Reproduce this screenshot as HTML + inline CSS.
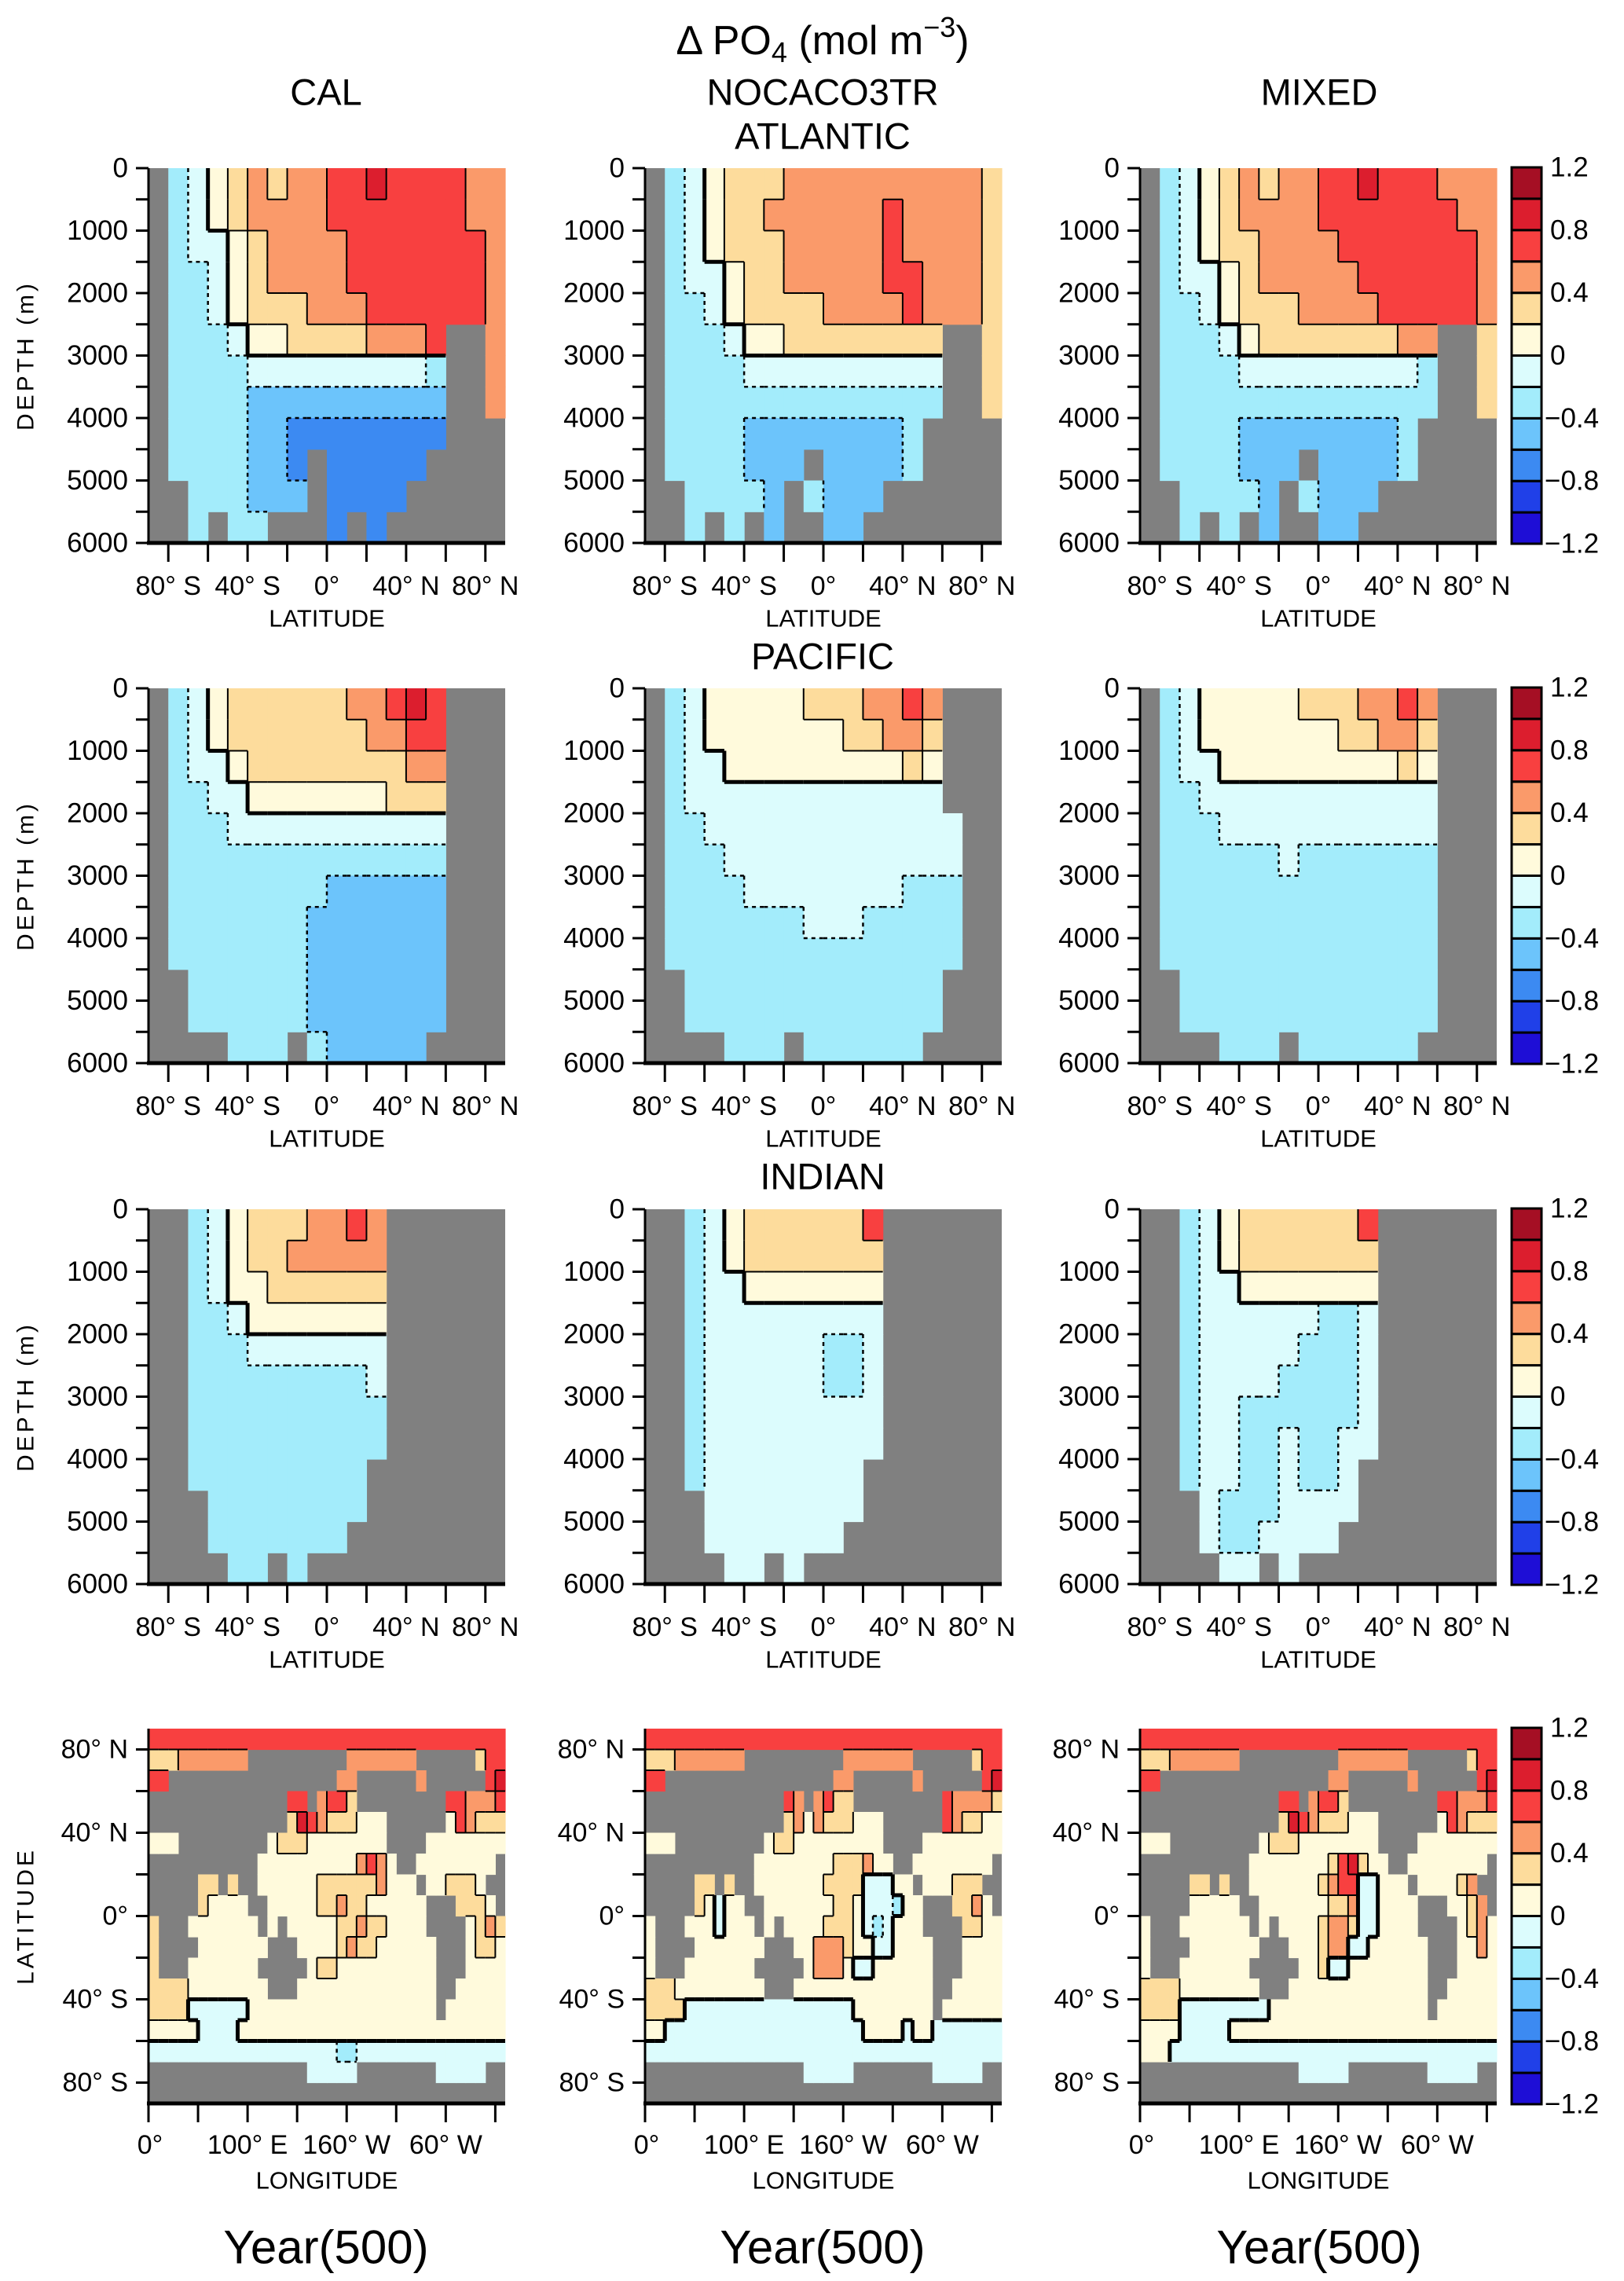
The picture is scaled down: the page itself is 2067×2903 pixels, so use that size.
<!DOCTYPE html>
<html><head><meta charset="utf-8"><style>
html,body{margin:0;padding:0;background:#fff}
svg{display:block}
text{font-family:"Liberation Sans",sans-serif;fill:#000}
</style></head><body>
<svg id="fig" width="2067" height="2903" viewBox="0 0 2067 2903" xmlns="http://www.w3.org/2000/svg"></svg>
<script>
// ---- data: level codes ('#' land; A..F negative bins; g..l positive bins)
const levelCodes = "ABCDEFghijkl";
const levelValues = [-1.1,-0.9,-0.7,-0.5,-0.3,-0.1,0.1,0.3,0.5,0.7,0.9,1.1];
const colorbarTicks = [1.2,0.8,0.4,0,-0.4,-0.8,-1.2];
const latTicks = [-80,-60,-40,-20,0,20,40,60,80];
const latTickLabels = {"-80":"80° S","-40":"40° S","0":"0°","40":"40° N","80":"80° N"};
const depthTicks = [0,500,1000,1500,2000,2500,3000,3500,4000,4500,5000,5500,6000];
const depthTickLabels = [0,1000,2000,3000,4000,5000,6000];
const lonTicks = [0,50,100,150,200,250,300,350];
const lonTickLabels = {"0":"0°","100":"100° E","200":"160° W","300":"60° W"};
const mapLatLabels = {"80":"80° N","40":"40° N","0":"0°","-40":"40° S","-80":"80° S"};

const atlCal = ["#EFghihiijjkjjjjii","#EFghiiiijjjjjjjii","#EFFghiiiijjjjjjji","#EEFghiiiijjjjjjji","#EEFghhhiiijjjjjji","#EEEFgghhhhiiij##i","#EEEEFFFFFFFFFE##i","#EEEEDDDDDDDDDD##i","#EEEEDDCCCCCCCC###","#EEEEDDC#CCCCC####","##EEEDDD#CCCC#####","##E#EE###C#C######"];
const atlNoca = ["#EFghhhiiiiiiiiiih","#EFghhiiiiiijiiiih","#EFghhhiiiiijiiiih","#EFFghhiiiiijjiiih","#EEFghhhhiiiijiiih","#EEEFgghhhhhhhh##h","#EEEEFFFFFFFFFF##h","#EEEEEEEEEEEEEE##h","#EEEEDDDDDDDDE####","#EEEEDDD#DDDDE####","##EEEED#EDDD######","##E#E#D##DD#######"];
const atlMix = ["#EFghihiijjkjjjiii","#EFghiiiijjjjjjjii","#EFghhiiiijjjjjjji","#EFFghiiiiijjjjjji","#EEFghhhiiiijjjjji","#EEEFghhhhhhhii##h","#EEEEFFFFFFFFFE##h","#EEEEEEEEEEEEEE##h","#EEEEDDDDDDDDE####","#EEEEDDD#DDDDE####","##EEEED#EDDD######","##E#E#D##DD#######"];
const pacCal = ["#EFghhhhhhiijkj###","#EFghhhhhhhiijj###","#EFFghhhhhhhhii###","#EEFFggggggghhh###","#EEEFFFFFFFFFFF###","#EEEEEEEEEEEEEE###","#EEEEEEEEDDDDDD###","#EEEEEEEDDDDDDD###","#EEEEEEEDDDDDDD###","##EEEEEEDDDDDDD###","##EEEEEEDDDDDDD###","####EEE#EDDDDD####"];
const pacNoca = ["#EFggggghhhiiji###","#EFggggggghhiih###","#EFFggggggggghg###","#EFFFFFFFFFFFFF###","#EEFFFFFFFFFFFFF##","#EEEFFFFFFFFFFFF##","#EEEEFFFFFFFFEEE##","#EEEEEEEFFFEEEEE##","#EEEEEEEEEEEEEEE##","##EEEEEEEEEEEEE###","##EEEEEEEEEEEEE###","####EEE#EEEEEE####"];
const pacMix = ["#EFggggghhhiiji###","#EFggggggghhiih###","#EFFggggggggghg###","#EEFFFFFFFFFFFF###","#EEEFFFFFFFFFFF###","#EEEEEEFEEEEEEE###","#EEEEEEEEEEEEEE###","#EEEEEEEEEEEEEE###","#EEEEEEEEEEEEEE###","##EEEEEEEEEEEEE###","##EEEEEEEEEEEEE###","####EEE#EEEEEE####"];
const indCal = ["##EFghhhiiji######","##EFghhiiiii######","##EFgghhhhhh######","##EEFggggggg######","##EEEFFFFFFF######","##EEEEEEEEEF######","##EEEEEEEEEE######","##EEEEEEEEEE######","##EEEEEEEEE#######","###EEEEEEEE#######","###EEEEEEE########","####EE#E##########"];
const indNoca = ["##EFghhhhhhj######","##EFghhhhhhh######","##EFFggggggg######","##EFFFFFFFFF######","##EFFFFFFEEF######","##EFFFFFFEEF######","##EFFFFFFFFF######","##EFFFFFFFFF######","##EFFFFFFFF#######","###FFFFFFFF#######","###FFFFFFF########","####FF#F##########"];
const indMix = ["##EFghhhhhhj######","##EFghhhhhhh######","##EFFggggggg######","##EFFFFFFEEF######","##EFFFFFEEEF######","##EFFFFEEEEF######","##EFFEEEEEEF######","##EFFEEFEEFF######","##EFFEEFEEF#######","###FEEEFFFF#######","###FEEFFFF########","####FF#F##########"];

const mapLand = ["....................................","..........##########.......######...","..#################..######.######..","##############..#....#########......","##############..........######......","...#########............####........","###########..............##........#","#####..#.##................#......##","#####.....##................###....#",".###.......#.#..............####....",".####.......###..............###....",".###.......#####.............###....","............###..............##.....",".............................#......","....................................","....................................","################.....########.....##","####################################"];
const mapCal = ["jjjjjjjjjjjjjjjjjjjjjjjjjjjjjjjjjjjj","hhhiiiiiiiggggggggggiiiiiiigggggghjj","jjgggggggggggggggggiiggggggiggggggjk","ggggggggggggggjjgijjhgggggggggjjiiij","gggggggggggggghkjihhhggggggggggjihhh","ggggggggggggghhhgggggggggggggggggggg","gggggggggggggggggggggijigggggggggggg","ggggghhghgggggggghhhhhhigggggghhhggg","ggggghggggggggggghhihhgggggggghhhhgg","hgggggggggggggggggghhihhggggggggghih","hgggggggggggggggggghihhgggggggggghhg","hgggggggggggggggghhggggggggggggggggg","hhhhgggggggggggggggggggggggggggggggg","hhhhFFFFFFgggggggggggggggggggggggggg","gggggFFFFggggggggggggggggggggggggggg","FFFFFFFFFFFFFFFFFFFEEFFFFFFFFFFFFFFF","FFFFFFFFFFFFFFFFFFFFFFFFFFFFFFFFFFFF","gggggggggggggggggggggggggggggggggggg"];
const mapNoca = ["jjjjjjjjjjjjjjjjjjjjjjjjjjjjjjjjjjjj","hhhiiiiiiiggggggggggiiiiiiigggggghjj","jjgggggggggggggggggiiggggggiggggggjk","ggggggggggggggjigijhhgggggggggjiiiih","gggggggggggggghigihhhgggggggggjihhgg","ggggggggggggghhggggggggggggggggggggg","ggggggggggggggggggghhhiggggggggggggg","ggggghhghggggggggghhhhFFFgggggghhhgg","ggggghgFggggggggggghhgFFFEggggghhigg","gggggggFgggggggggghhhgFEFggggggghhgg","gggggggggggggggggiiihggFFggggggggggg","gggggggggggggggggiiigFFggggggggggggg","hhhggggggggggggggggggggggggggggggggg","hhhhFFFFFFFFFFFFFFFFFggggggggggggggg","ggFFFFFFFFFFFFFFFFFFFFggggFggFFFFFFF","FFFFFFFFFFFFFFFFFFFFFFFFFFFFFFFFFFFF","FFFFFFFFFFFFFFFFFFFFFFFFFFFFFFFFFFFF","gggggggggggggggggggggggggggggggggggg"];
const mapMix = ["jjjjjjjjjjjjjjjjjjjjjjjjjjjjjjjjjjjj","hhhiiiiiiiggggggggggiiiiiiigggggghjj","jjgggggggggggggggggiiggggggiggggggjk","ggggggggggggggjjgijjhgggggggggjjiiij","gggggggggggggghkjihhhggggggggggjihhh","ggggggggggggghhhgggggggggggggggggggg","ggggggggggggggggggghjkhggggggggggggg","ggggghhghggggggggghijjFFgggggggghigg","ggggggggggggggggggghhiFFggggggggghig","gggggggggggggggggghiihFFggggggggghig","gggggggggggggggggghiiFFgggggggggggig","gggggggggggggggggghFFggggggggggggggg","hhhhgggggggggggggggggggggggggggggggg","hhhhFFFFFFFFFggggggggggggggggggggggg","ggggFFFFFggggggggggggggggggggggggggg","gggFFFFFFFFFFFFFFFFFFFFFFFFFFFFFFFFF","FFFFFFFFFFFFFFFFFFFFFFFFFFFFFFFFFFFF","gggggggggggggggggggggggggggggggggggg"];

// ---- styling / layout
const palette = ["#1e0ed6","#2040e8","#3c8af2","#6cc4fb","#a3ecfb","#dcfcfd","#fffadc","#fddc9c","#fa9a6a","#f84040","#dc1e2e","#a50f24"];
const LAND = "#808080";
const colX = [189, 821, 1451];
const PW = 454, PH = 477;
const rowY = [214, 876, 1539, 2200];
const NS = "http://www.w3.org/2000/svg";
const svg = document.getElementById("fig");

function el(tag, attrs, parent) {
  const e = document.createElementNS(NS, tag);
  for (const k in attrs) e.setAttribute(k, attrs[k]);
  (parent || svg).appendChild(e);
  return e;
}
function txt(s, x, y, size, anchor, parent, extra) {
  const t = el("text", Object.assign({x: x, y: y, "font-size": size, "text-anchor": anchor || "middle", "dominant-baseline": "central"}, extra || {}), parent);
  t.textContent = s;
  return t;
}
function decode(rows, ncol) {
  return rows.map(r => {
    const s = r.padEnd(ncol, "#").slice(0, ncol);
    return Array.from(s).map(c => c === "#" ? null : levelValues[levelCodes.indexOf(c)]);
  });
}
function binOf(v) { return Math.max(0, Math.min(11, Math.floor((v + 1.2) / 0.2))); }

function drawField(g, grid, x0, y0, w, h, xOf, yOf) {
  const nr = grid.length, nc = grid[0].length;
  el("rect", {x: x0, y: y0, width: w, height: h, fill: LAND}, g);
  for (let r = 0; r < nr; r++) for (let c = 0; c < nc; c++) {
    const v = grid[r][c];
    if (v === null) continue;
    const xa = xOf(c), xb = xOf(c + 1), ya = yOf(r), yb = yOf(r + 1);
    const cell = el("rect", {x: xa, y: ya, width: xb - xa + 0.6, height: yb - ya + 0.6, fill: palette[binOf(v)]}, g);
    
    
  }
  function edge(v1, v2, x1, y1, x2, y2) {
    if (v1 === null || v2 === null) return;
    const b1 = binOf(v1), b2 = binOf(v2);
    if (b1 === b2) return;
    const lo = Math.min(b1, b2), hi = Math.max(b1, b2);
    let sw = 2, dash = null;
    if (lo <= 5 && hi >= 6) sw = 5;
    else if (hi <= 5) { dash = "5,5"; sw = 2.5; }
    const a = {x1: x1, y1: y1, x2: x2, y2: y2, stroke: "#000", "stroke-width": sw};
    if (dash) a["stroke-dasharray"] = dash;
    el("line", a, g);
  }
  for (let r = 0; r < nr; r++) for (let c = 0; c < nc; c++) {
    if (c + 1 < nc) edge(grid[r][c], grid[r][c + 1], xOf(c + 1), yOf(r), xOf(c + 1), yOf(r + 1));
    if (r + 1 < nr) edge(grid[r][c], grid[r + 1][c], xOf(c), yOf(r + 1), xOf(c + 1), yOf(r + 1));
  }
}

function sectionPanel(rows, col, row, name) {
  const x0 = colX[col], y0 = rowY[row];
  const g = el("g", {});
  
  
  const grid = decode(rows, 18);
  const latX = lat => x0 + (lat + 90) / 180 * PW;
  const depY = d => y0 + d / 6000 * PH;
  drawField(g, grid, x0, y0, PW, PH, c => latX(-90 + c * 10), r => depY(r * 500));
  el("line", {x1: x0, y1: y0, x2: x0, y2: y0 + PH, stroke: "#000", "stroke-width": 3}, g);
  el("line", {x1: x0 - 2, y1: y0 + PH, x2: x0 + PW, y2: y0 + PH, stroke: "#000", "stroke-width": 5}, g);
  depthTicks.forEach(d => el("line", {x1: x0 - 16, y1: depY(d), x2: x0, y2: depY(d), stroke: "#000", "stroke-width": 3}, g));
  depthTickLabels.forEach(d => txt(String(d), x0 - 26, depY(d), 35, "end", g));
  latTicks.forEach(l => el("line", {x1: latX(l), y1: y0 + PH, x2: latX(l), y2: y0 + PH + 24, stroke: "#000", "stroke-width": 3}, g));
  Object.keys(latTickLabels).forEach(k => txt(latTickLabels[k], latX(+k), y0 + PH + 55, 34, "middle", g));
  const xt = txt("LATITUDE", x0 + PW / 2, y0 + PH + 96, 31, "middle", g);
  
  
  if (col === 0) {
    const yt = txt("DEPTH (m)", 0, 0, 30, "middle", g, {transform: "translate(33," + (y0 + PH / 2) + ") rotate(-90)", "letter-spacing": "4"});
    
    
  }
}

function mapPanel(rows, col, name) {
  const x0 = colX[col], y0 = rowY[3];
  const g = el("g", {});
  
  
  const land = mapLand.map(r => r.padEnd(36, "."));
  const grid = decode(rows.map(r => r.padEnd(36, "g")), 36).map((r, i) => r.map((v, j) => land[i][j] === "#" ? null : v));
  const lonX = lon => x0 + lon / 360 * PW;
  const latY = lat => y0 + (90 - lat) / 180 * PH;
  drawField(g, grid, x0, y0, PW, PH, c => lonX(c * 10), r => latY(90 - r * 10));
  el("line", {x1: x0, y1: y0, x2: x0, y2: y0 + PH, stroke: "#000", "stroke-width": 3}, g);
  el("line", {x1: x0 - 2, y1: y0 + PH, x2: x0 + PW, y2: y0 + PH, stroke: "#000", "stroke-width": 5}, g);
  latTicks.forEach(l => el("line", {x1: x0 - 16, y1: latY(l), x2: x0, y2: latY(l), stroke: "#000", "stroke-width": 3}, g));
  Object.keys(mapLatLabels).forEach(k => txt(mapLatLabels[k], x0 - 26, latY(+k), 34, "end", g));
  lonTicks.forEach(l => el("line", {x1: lonX(l), y1: y0 + PH, x2: lonX(l), y2: y0 + PH + 24, stroke: "#000", "stroke-width": 3}, g));
  Object.keys(lonTickLabels).forEach(k => txt(lonTickLabels[k], lonX(+k) + (k === "0" ? 2 : 0), y0 + PH + 53, 34, "middle", g));
  const xt = txt("LONGITUDE", x0 + PW / 2, y0 + PH + 98, 31, "middle", g);
  
  
  if (col === 0) {
    const yt = txt("LATITUDE", 0, 0, 30, "middle", g, {transform: "translate(33," + (y0 + PH / 2) + ") rotate(-90)", "letter-spacing": "4"});
    
    
  }
}

function colorbar(row) {
  const x0 = 1924, w = 38, y0 = rowY[row] - 1, h = PH + 2;
  const g = el("g", {});
  
  
  const vY = v => y0 + (1.2 - v) / 2.4 * h;
  for (let i = 0; i < 12; i++) {
    const top = vY(-1.2 + (i + 1) * 0.2), bot = vY(-1.2 + i * 0.2);
    el("rect", {x: x0, y: top, width: w, height: bot - top, fill: palette[i], stroke: "#000", "stroke-width": 3}, g);
  }
  colorbarTicks.forEach(v => {
    const s = v < 0 ? "\u2212" + Math.abs(v).toFixed(1) : (v === 0 ? "0" : v.toFixed(1));
    txt(s, v < 0 ? 1966 : 1973, vY(v), 35, "start", g);
  });
}

sectionPanel(atlCal, 0, 0, "atlantic-cal-panel");
sectionPanel(atlNoca, 1, 0, "atlantic-nocaco3tr-panel");
sectionPanel(atlMix, 2, 0, "atlantic-mixed-panel");
sectionPanel(pacCal, 0, 1, "pacific-cal-panel");
sectionPanel(pacNoca, 1, 1, "pacific-nocaco3tr-panel");
sectionPanel(pacMix, 2, 1, "pacific-mixed-panel");
sectionPanel(indCal, 0, 2, "indian-cal-panel");
sectionPanel(indNoca, 1, 2, "indian-nocaco3tr-panel");
sectionPanel(indMix, 2, 2, "indian-mixed-panel");
mapPanel(mapCal, 0, "surface-cal-map");
mapPanel(mapNoca, 1, "surface-nocaco3tr-map");
mapPanel(mapMix, 2, "surface-mixed-map");
[0,1,2,3].forEach(colorbar);

const title = el("text", {x: 1047, y: 52, "font-size": 52, "text-anchor": "middle", "dominant-baseline": "central"});


title.innerHTML = 'Δ PO<tspan font-size="36" dy="14">4</tspan><tspan dy="-14"> (mol m</tspan><tspan font-size="36" dy="-18">−3</tspan><tspan dy="18">)</tspan>';
[["CAL", 415], ["NOCACO3TR", 1047], ["MIXED", 1679]].forEach(([s, x]) => {
  const t = txt(s, x, 117, 47, "middle");
  
  
});
[["ATLANTIC", 173], ["PACIFIC", 835], ["INDIAN", 1497]].forEach(([s, y]) => {
  const t = txt(s, 1047, y, 47, "middle");
  
  
});
[415, 1047, 1679].forEach(x => {
  const t = txt("Year(500)", x, 2860, 60, "middle");
  
  
});
</script>
</body></html>
